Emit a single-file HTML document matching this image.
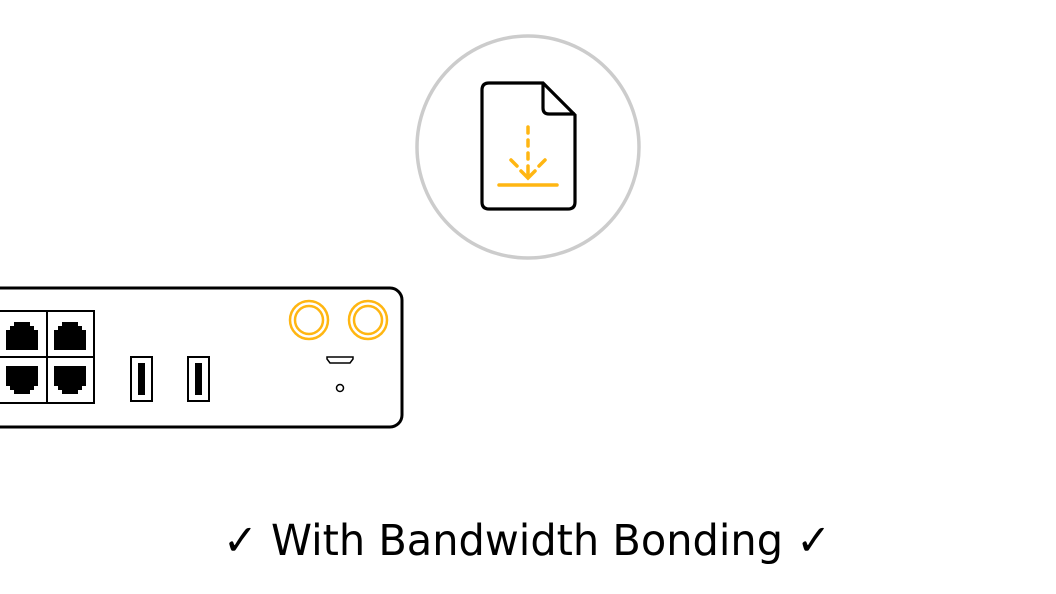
<!DOCTYPE html>
<html><head><style>html,body{margin:0;padding:0;background:#fff;}svg{display:block}</style></head>
<body>
<svg width="1056" height="594" viewBox="0 0 1056 594" xmlns="http://www.w3.org/2000/svg">
<circle cx="528" cy="147" r="111" fill="#fff" stroke="#cccccc" stroke-width="3.5"/>
<path d="M489 83 H543 L575 115 V202 Q575 209 568 209 H489 Q482 209 482 202 V90 Q482 83 489 83 Z" fill="#fff" stroke="#000" stroke-width="3.2"/>
<path d="M543 83 V108 Q543 114 549 114 H575" fill="none" stroke="#000" stroke-width="3.2"/>
<g stroke="#ffb612" stroke-width="3.5" stroke-linecap="round" fill="none">
<line x1="528" y1="127" x2="528" y2="133"/>
<line x1="528" y1="140" x2="528" y2="146"/>
<line x1="528" y1="153" x2="528" y2="159"/>
<line x1="528" y1="166" x2="528" y2="176"/>
<polyline points="521,171 528,178 535,171"/>
<line x1="511" y1="160" x2="517" y2="166"/>
<line x1="545" y1="160" x2="539" y2="166"/>
<line x1="499" y1="185" x2="557" y2="185"/>
</g>
<rect x="-20" y="288" width="422" height="139" rx="12" fill="#fff" stroke="#000" stroke-width="3"/>
<g stroke="#000" stroke-width="2" fill="#fff">
<rect x="-2" y="311" width="49" height="46"/><rect x="47" y="311" width="47" height="46"/>
<rect x="-2" y="357" width="49" height="46"/><rect x="47" y="357" width="47" height="46"/>
</g>
<g fill="#000">
<path d="M6 350 V330 H10 V326 H14 V322 H30 V326 H34 V330 H38 V350 Z"/>
<path d="M54 350 V330 H58 V326 H62 V322 H78 V326 H82 V330 H86 V350 Z"/>
<path d="M6 366 V386 H10 V390 H14 V394 H30 V390 H34 V386 H38 V366 Z"/>
<path d="M54 366 V386 H58 V390 H62 V394 H78 V390 H82 V386 H86 V366 Z"/>
</g>
<g stroke="#000" stroke-width="2" fill="#fff">
<rect x="131" y="357" width="21" height="44"/><rect x="188" y="357" width="21" height="44"/>
</g>
<rect x="138" y="363" width="7" height="32" fill="#000"/>
<rect x="195" y="363" width="7" height="32" fill="#000"/>
<g stroke="#ffb612" stroke-width="2.5" fill="none">
<circle cx="309" cy="320" r="19"/><circle cx="309" cy="320" r="14"/>
<circle cx="368" cy="320" r="19"/><circle cx="368" cy="320" r="14"/>
</g>
<path d="M327 357 H353 V359 L350 363 H330 L327 359 Z" fill="#fff" stroke="#000" stroke-width="1.5"/>
<circle cx="340" cy="388" r="3.5" fill="#fff" stroke="#000" stroke-width="1.5"/>
<text x="527" y="555" text-anchor="middle" font-family="DejaVu Sans, sans-serif" font-size="43" textLength="608" lengthAdjust="spacingAndGlyphs" fill="#000">✓ With Bandwidth Bonding ✓</text>
</svg>
</body></html>
